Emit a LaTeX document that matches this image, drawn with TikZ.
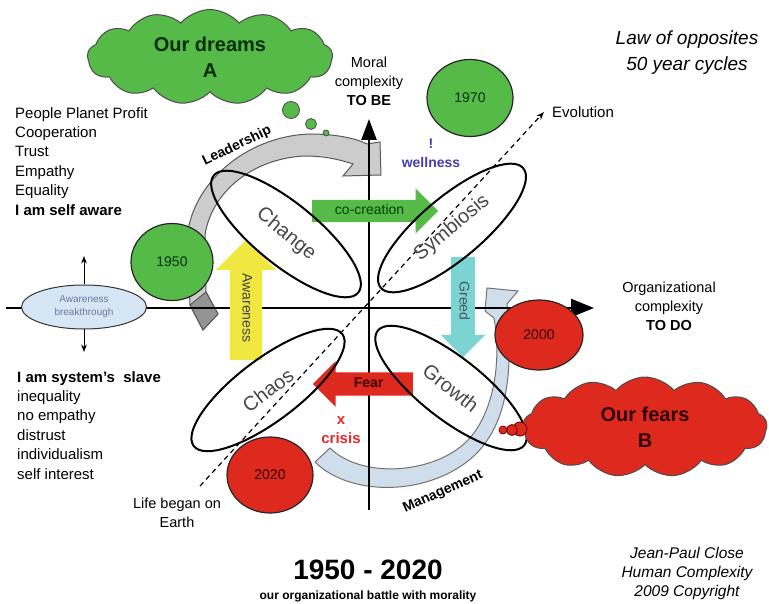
\documentclass[tikz,border=0pt]{standalone}
\usepackage{fontspec}
\setmainfont{Liberation Sans}
\usetikzlibrary{arrows.meta,shapes.geometric,shapes.symbols,shapes.arrows,positioning}

\definecolor{dreamgreen}{RGB}{86,186,72}
\definecolor{fearred}{RGB}{222,42,30}
\definecolor{leadgray}{RGB}{204,204,204}
\definecolor{mgmtblue}{RGB}{208,222,236}
\definecolor{greedcyan}{RGB}{124,212,210}
\definecolor{awareyellow}{RGB}{240,232,64}
\definecolor{breakblue}{RGB}{214,230,244}
\definecolor{wellblue}{RGB}{70,60,175}
\definecolor{crisisred}{RGB}{228,40,40}

\tikzset{
  year/.style={ellipse,draw=black!85,line width=1.2pt,inner sep=0pt,font=\fontsize{14}{14}\selectfont},
  phase/.style={ellipse,draw=black,line width=2pt,minimum width=186pt,minimum height=62pt,inner sep=0pt,font=\fontsize{20}{20}\selectfont,text=black!72},
  blockarrow/.style={single arrow,single arrow head indent=0pt,inner xsep=0pt,text height=10pt,text depth=3pt,font=\fontsize{14}{14}\selectfont},
  bubble/.style={cloud,cloud puffs=13,cloud puff arc=100,aspect=2.5,draw=black!70,line width=1pt,align=center,font=\bfseries\fontsize{20}{26}\selectfont},
  puff/.style={circle,draw=black!70,line width=0.8pt,inner sep=0pt},
  txt/.style={inner sep=0pt,font=\fontsize{15}{19.4}\selectfont},
  small/.style={inner sep=0pt,font=\fontsize{14.5}{19}\selectfont},
}

\begin{document}
\begin{tikzpicture}[x=1pt,y=-1pt,>=Stealth]
\useasboundingbox (0,0) rectangle (769,604);

\filldraw[fill=leadgray,draw=black!65,line width=1pt]
 (190,305) -- (187,240) .. controls (190,185) and (245,136) .. (310,134)
 .. controls (335,134) and (355,138) .. (367,144) -- (380,142) -- (381,175) -- (343,176) -- (353,164)
 .. controls (335,158) and (320,156) .. (305,156) .. controls (255,158) and (212,190) .. (205,235)
 -- (206,292) -- (218,314) -- (203,330) -- cycle;
\filldraw[fill=black!42,draw=black!65,line width=1pt] (190,305) -- (206,292) -- (218,314) -- (203,330) -- cycle;
\filldraw[fill=mgmtblue,draw=black!55,line width=1pt]
 (315,462) .. controls (350,497) and (430,497) .. (475,455) .. controls (505,425) and (514,380) .. (507,304)
 -- (518,291) -- (487,288) -- (485,311) -- (494,318)
 .. controls (503,370) and (490,420) .. (465,443) .. controls (430,475) and (360,478) .. (330,448) -- cycle;

\coordinate (tobe) at (369,119);
\coordinate (axbot) at (369,510);
\coordinate (axleft) at (6,308);
\coordinate (todo) at (594,308);
\coordinate (origin) at (200,486);
\coordinate (evo) at (544,112);
\draw[line width=2.4pt,-{Triangle[width=15pt,length=21pt]}] (axbot) -- (tobe);
\draw[line width=2.4pt,-{Triangle[width=18pt,length=23pt]}] (axleft) -- (todo);
\draw[line width=1.2pt,dash pattern=on 5pt off 4pt,-{Stealth[length=8pt,width=6pt]}] (origin) -- (evo);

\node[blockarrow,fill=dreamgreen,text=green!25!black,inner ysep=4.5pt,anchor=tail,minimum height=126pt,single arrow head extend=11.5pt] (cocreation) at (312,211) {co-creation};
\node[blockarrow,fill=greedcyan,text=cyan!30!black,inner ysep=5.5pt,rotate=-90,anchor=tail,minimum height=100pt,single arrow head extend=10pt] (greed) at (463,257) {Greed};
\node[blockarrow,fill=fearred,text=red!25!black,inner ysep=5pt,font=\bfseries\fontsize{14}{14}\selectfont,shape border rotate=180,anchor=tail,minimum height=100pt,single arrow head extend=11pt] (fear) at (413,384) {Fear};
\node[blockarrow,fill=awareyellow,text=black!75,inner ysep=9.5pt,rotate=-90,shape border rotate=180,anchor=tail,minimum height=120pt,single arrow head extend=14pt] (awareness) at (246,360) {Awareness};

\node[phase,rotate=-39] (change) at (286,234) {Change};
\node[phase,rotate=40] (symbiosis) at (452,228) {Symbiosis};
\node[phase,rotate=37] (chaos) at (268,390) {Chaos};
\node[phase,rotate=-38] (growth) at (451,388) {Growth};

\node[year,fill=dreamgreen,text=green!20!black,minimum width=82pt,minimum height=77pt] (y1950) at (172,262) {1950};
\node[year,fill=dreamgreen,text=green!20!black,minimum width=86pt,minimum height=77pt] (y1970) at (470,98) {1970};
\node[year,fill=fearred,text=red!20!black,minimum width=88pt,minimum height=70pt] (y2000) at (539,335) {2000};
\node[year,fill=fearred,text=red!20!black,minimum width=86pt,minimum height=76pt] (y2020) at (270,475) {2020};

\node[bubble,fill=dreamgreen,text=green!18!black,minimum width=245pt,minimum height=95pt] (dreams) at (210,57) {Our dreams\\A};
\node[puff,fill=dreamgreen,minimum size=17pt] (dream1) at (291,110) {};
\node[puff,fill=dreamgreen,minimum size=11pt] (dream2) at (311,124) {};
\node[puff,fill=dreamgreen,minimum size=6pt] (dream3) at (326,133) {};

\node[bubble,fill=fearred,text=red!18!black,minimum width=244pt,minimum height=100pt] (fears) at (645,427) {Our fears\\B};
\node[puff,fill=fearred,draw=red!40!black,minimum size=14pt] (fear1) at (520,429) {};
\node[puff,fill=fearred,draw=red!40!black,minimum size=11pt] (fear2) at (512,430) {};
\node[puff,fill=fearred,draw=red!40!black,minimum size=8pt] (fear3) at (503,430) {};

\node[ellipse,draw=black!80,line width=1pt,fill=breakblue,minimum width=125pt,minimum height=44pt,align=center,inner sep=0pt,font=\fontsize{10}{13}\selectfont,text=black!65!blue!55] (breakthrough) at (84,307) {Awareness\\breakthrough};
\coordinate (brkup) at (84,256);
\coordinate (brkdown) at (84,352);
\draw[line width=1pt,->] (breakthrough) -- (brkup);
\draw[line width=1pt,->] (breakthrough) -- (brkdown);

\node[small,anchor=north,align=center] (moral) at (369,57) {Moral\\complexity\\\textbf{TO BE}};
\node[small,anchor=north,align=center] (org) at (669,282) {Organizational\\complexity\\\textbf{TO DO}};
\node[inner sep=0pt,anchor=north,align=center,font=\itshape\fontsize{19}{26}\selectfont] (law) at (687,31) {Law of opposites\\50 year cycles};
\node[txt,anchor=west] (evolution) at (552,112) {Evolution};
\node[txt,anchor=north west,align=left] (values) at (15,107) {People Planet Profit\\Cooperation\\Trust\\Empathy\\Equality\\\textbf{I am self aware}};
\node[txt,anchor=north west,align=left] (slave) at (17,371) {\textbf{I am system's\ \ slave}\\inequality\\no empathy\\distrust\\individualism\\self interest};
\node[inner sep=0pt,align=center,text=wellblue,font=\bfseries\fontsize{14}{19}\selectfont] (wellness) at (431,153) {!\\wellness};
\node[inner sep=0pt,align=center,text=crisisred,font=\bfseries\fontsize{15}{19}\selectfont] (crisis) at (341,430) {x\\crisis};
\node[inner sep=0pt,rotate=26,font=\bfseries\fontsize{14}{14}\selectfont] (leadership) at (237,146) {Leadership};
\node[inner sep=0pt,rotate=24,font=\bfseries\fontsize{14}{14}\selectfont] (management) at (443,492) {Management};
\node[small,anchor=north,align=center] (life) at (177,498) {Life began on\\Earth};
\node[inner sep=0pt,font=\bfseries\fontsize{28}{28}\selectfont] (period) at (368,570) {1950 - 2020};
\node[inner sep=0pt,font=\bfseries\fontsize{12}{12}\selectfont] (battle) at (368,596) {our organizational battle with morality};
\node[inner sep=0pt,anchor=north,align=center,font=\itshape\fontsize{15.5}{19}\selectfont] (credit) at (687,547) {Jean-Paul Close\\Human Complexity\\2009 Copyright};
\end{tikzpicture}
\end{document}
